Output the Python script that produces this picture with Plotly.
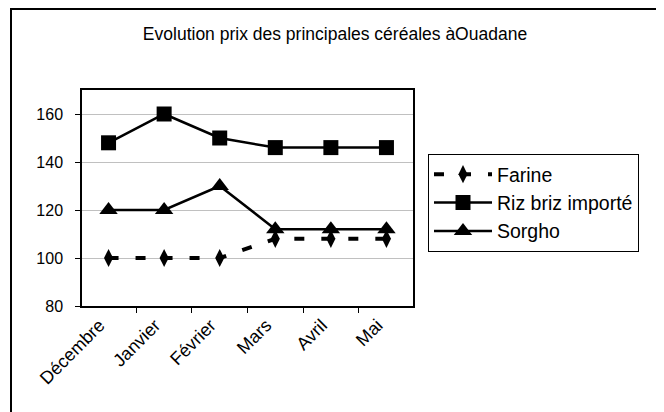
import plotly.graph_objects as go

months = ["Décembre", "Janvier", "Février", "Mars", "Avril", "Mai"]
farine = [100, 100, 100, 108, 108, 108]
riz = [148, 160, 150, 146, 146, 146]
sorgho = [120, 120, 130, 112, 112, 112]

fig = go.Figure()
fig.add_trace(go.Scatter(x=months, y=farine, name="Farine", mode="lines+markers",
                         legendgroup="a",
                         line=dict(color="black", width=4, dash="10px,17px"),
                         marker=dict(symbol="diamond-tall", size=13, color="black")))
fig.add_trace(go.Scatter(x=months, y=riz, name="Riz briz importé", mode="lines+markers",
                         legendgroup="b",
                         line=dict(color="black", width=2.5),
                         marker=dict(symbol="square", size=15, color="black")))
fig.add_trace(go.Scatter(x=months, y=sorgho, name="Sorgho", mode="lines+markers",
                         legendgroup="c",
                         line=dict(color="black", width=2.5),
                         marker=dict(symbol="triangle-up", size=16, color="black")))

# page body has an 8px margin: convert screen px to figure px
OFF = 8
L, R, T, B = 82 - OFF, 413 - OFF, 90 - OFF, 306 - OFF
W, H = 664, 412
pw, ph = R - L, B - T

fig.update_layout(
    width=W, height=H,
    margin=dict(l=L, r=W - R, t=T, b=H - B),
    paper_bgcolor="white", plot_bgcolor="white",
    font=dict(family="Liberation Sans, Arial", size=16, color="black"),
    title=dict(text="Evolution prix des principales céréales àOuadane",
               x=(335 - OFF)/W, xanchor="center", xref="container",
               y=1 - (34 - OFF)/H, yanchor="middle",
               font=dict(size=17.5, color="black")),
    showlegend=True,
    legend=dict(x=(428 - OFF - L)/pw, y=(B - (154 - OFF))/ph,
                xanchor="left", yanchor="top",
                bordercolor="black", borderwidth=1, bgcolor="white",
                itemwidth=58, font=dict(size=19.5), tracegroupgap=0,
                traceorder="grouped"),
    shapes=[dict(type="rect", xref="paper", yref="paper",
                 x0=(11 - OFF - L)/pw, x1=(660 - OFF - L)/pw,
                 y0=(B - 430)/ph, y1=(B - (9 - OFF))/ph,
                 line=dict(color="black", width=2), fillcolor="rgba(0,0,0,0)",
                 layer="below")],
)
fig.update_xaxes(type="category", tickangle=-45, tickson="boundaries",
                 ticks="outside", ticklen=5, tickcolor="black",
                 ticklabelshift=-9,
                 showline=True, linecolor="black", linewidth=1.5, mirror=True,
                 showgrid=False, tickfont=dict(size=18))
fig.update_yaxes(range=[80, 170], tickvals=[80, 100, 120, 140, 160],
                 ticks="outside", ticklen=5, tickcolor="black",
                 ticklabelstandoff=9,
                 showline=True, linecolor="black", linewidth=1.5, mirror=True,
                 showgrid=True, gridcolor="#c0c0c0", gridwidth=1,
                 zeroline=False, tickfont=dict(size=16))

fig.write_html("out.html")
